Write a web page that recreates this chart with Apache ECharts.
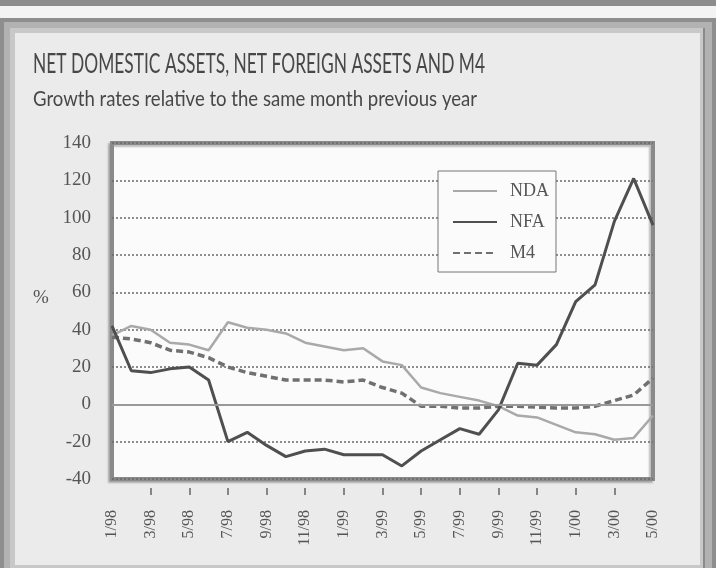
<!DOCTYPE html>
<html>
<head>
<meta charset="utf-8">
<script src="https://cdn.jsdelivr.net/npm/echarts@6/dist/echarts.min.js"></script>
<style>
html,body{margin:0;padding:0;background:#f3f3f3;}
#chart{width:716px;height:568px;}
</style>
</head>
<body>
<div id="chart"></div>
<script>
var chartTitle = 'NET DOMESTIC ASSETS, NET FOREIGN ASSETS AND M4';
var chartSubtitle = 'Growth rates relative to the same month previous year';

var months = ['1/98','2/98','3/98','4/98','5/98','6/98','7/98','8/98','9/98','10/98','11/98','12/98',
              '1/99','2/99','3/99','4/99','5/99','6/99','7/99','8/99','9/99','10/99','11/99','12/99',
              '1/00','2/00','3/00','4/00','5/00'];

var ndaData = [37, 42, 40, 33, 32, 29, 44, 41, 40, 38, 33, 31, 29, 30, 23, 21, 9, 6, 4, 2, -1, -6, -7, -11, -15, -16, -19, -18, -6];
var nfaData = [42, 18, 17, 19, 20, 13, -20, -15, -22, -28, -25, -24, -27, -27, -27, -33, -25, -19, -13, -16, -3, 22, 21, 32, 55, 64, 98, 121, 96];
var m4Data  = [36, 35, 33, 29, 28, 25, 20, 17, 15, 13, 13, 13, 12, 13, 9, 6, -1, -1, -2, -2, -1, -1, -1.5, -2, -2, -1, 2, 5, 14];

var yMin = -40, yMax = 140, yStep = 20;

// squeeze a text to a target width (the original uses a condensed face)
function fitScale(text, font, target){
    var ctx = document.createElement('canvas').getContext('2d');
    ctx.font = font;
    return target / ctx.measureText(text).width;
}

var titleFont = '26px Lato';
var subFont = '22px Lato';
var titleScale = fitScale(chartTitle, titleFont, 452);
var subScale = fitScale(chartSubtitle, subFont, 444);

var myChart = echarts.init(document.getElementById('chart'));

var option = {
    backgroundColor: '#f3f3f3',
    animation: false,
    graphic: [
        // top band
        { type:'rect', shape:{x:0,y:0,width:716,height:6}, style:{fill:'#8c8c8c'}, z:-10 },
        // outer frame
        { type:'rect', shape:{x:0,y:18,width:716,height:550}, style:{fill:'#8e8e8e'}, z:-10 },
        { type:'rect', shape:{x:4,y:22,width:708,height:546}, style:{fill:'#b2b2b2'}, z:-10 },
        { type:'rect', shape:{x:10,y:28,width:694,height:540}, style:{fill:'#c8c8c8'}, z:-10 },
        { type:'rect', shape:{x:15,y:33,width:685,height:532}, style:{fill:'#ebebeb'}, z:-10 },
        { type:'rect', shape:{x:703,y:28,width:2,height:540}, style:{fill:'#8a8a8a'}, z:-10 },
        {
            type:'text', x:33, y:65, scaleX:titleScale, z:10,
            style:{ text:chartTitle, font:titleFont, fill:'#474747', align:'left', verticalAlign:'middle' }
        },
        {
            type:'text', x:33, y:99, scaleX:subScale, z:10,
            style:{ text:chartSubtitle, font:subFont, fill:'#474747', align:'left', verticalAlign:'middle' }
        },
        {
            type:'text', x:41, y:298, z:10,
            style:{ text:'%', font:'19px "Liberation Serif"', fill:'#555', align:'center', verticalAlign:'middle' }
        }
    ],
    grid: {
        left: 112,
        top: 143,
        right: 63,
        bottom: 89,
        show: true,
        backgroundColor: '#fbfbfb',
        borderColor: '#8a8a8a',
        borderWidth: 4,
        shadowColor: 'rgba(0,0,0,0.25)',
        shadowBlur: 2,
        shadowOffsetX: -2,
        shadowOffsetY: 2
    },
    legend: {
        orient: 'vertical',
        left: 438,
        top: 171,
        padding: [11, 7, 10, 14],
        itemWidth: 44,
        itemHeight: 14,
        itemGap: 13,
        backgroundColor: '#fbfbfb',
        borderColor: '#777',
        borderWidth: 1,
        itemStyle: { opacity: 0 },
        textStyle: { fontFamily: 'Liberation Serif', fontSize: 18, color: '#555', padding: [0, 0, 0, 8] },
        data: ['NDA', 'NFA', 'M4']
    },
    xAxis: [
        {
            type: 'category',
            data: months,
            boundaryGap: false,
            axisLine: { show: false },
            axisTick: { show: false },
            splitLine: { show: false },
            axisLabel: {
                interval: 1,
                rotate: 90,
                margin: 31,
                fontFamily: 'Liberation Serif',
                fontSize: 16,
                color: '#555'
            }
        },
        {
            type: 'category',
            data: months,
            boundaryGap: false,
            position: 'bottom',
            offset: 9,
            axisLine: { show: false },
            axisLabel: { show: false },
            axisTick: {
                show: true,
                length: 7,
                interval: function (i) { return i % 2 === 0 && i > 0 && i < months.length - 1; },
                lineStyle: { color: '#666', width: 1.5 }
            }
        }
    ],
    yAxis: {
        type: 'value',
        min: yMin,
        max: yMax,
        interval: yStep,
        axisLine: { show: false },
        axisTick: { show: false },
        axisLabel: {
            margin: 21,
            fontFamily: 'Liberation Serif',
            fontSize: 19,
            color: '#555'
        },
        splitLine: {
            show: true,
            lineStyle: { color: '#6a6a6a', width: 1.5, type: [2, 2] }
        }
    },
    series: [
        {
            name: 'NDA',
            type: 'line',
            data: ndaData,
            symbol: 'none',
            lineStyle: { color: '#a9a9a9', width: 2.5 },
            itemStyle: { color: '#a9a9a9' },
            z: 3,
            markLine: {
                silent: true,
                symbol: 'none',
                label: { show: false },
                lineStyle: { color: '#999', width: 2, type: 'solid' },
                data: [{ yAxis: 0 }]
            }
        },
        {
            name: 'NFA',
            type: 'line',
            data: nfaData,
            symbol: 'none',
            lineStyle: { color: '#4f4f4f', width: 3 },
            itemStyle: { color: '#4f4f4f' },
            z: 4
        },
        {
            name: 'M4',
            type: 'line',
            data: m4Data,
            symbol: 'none',
            lineStyle: { color: '#707070', width: 3.5, type: [7, 4] },
            itemStyle: { color: '#707070' },
            z: 3
        }
    ]
};

myChart.setOption(option);
</script>
</body>
</html>
